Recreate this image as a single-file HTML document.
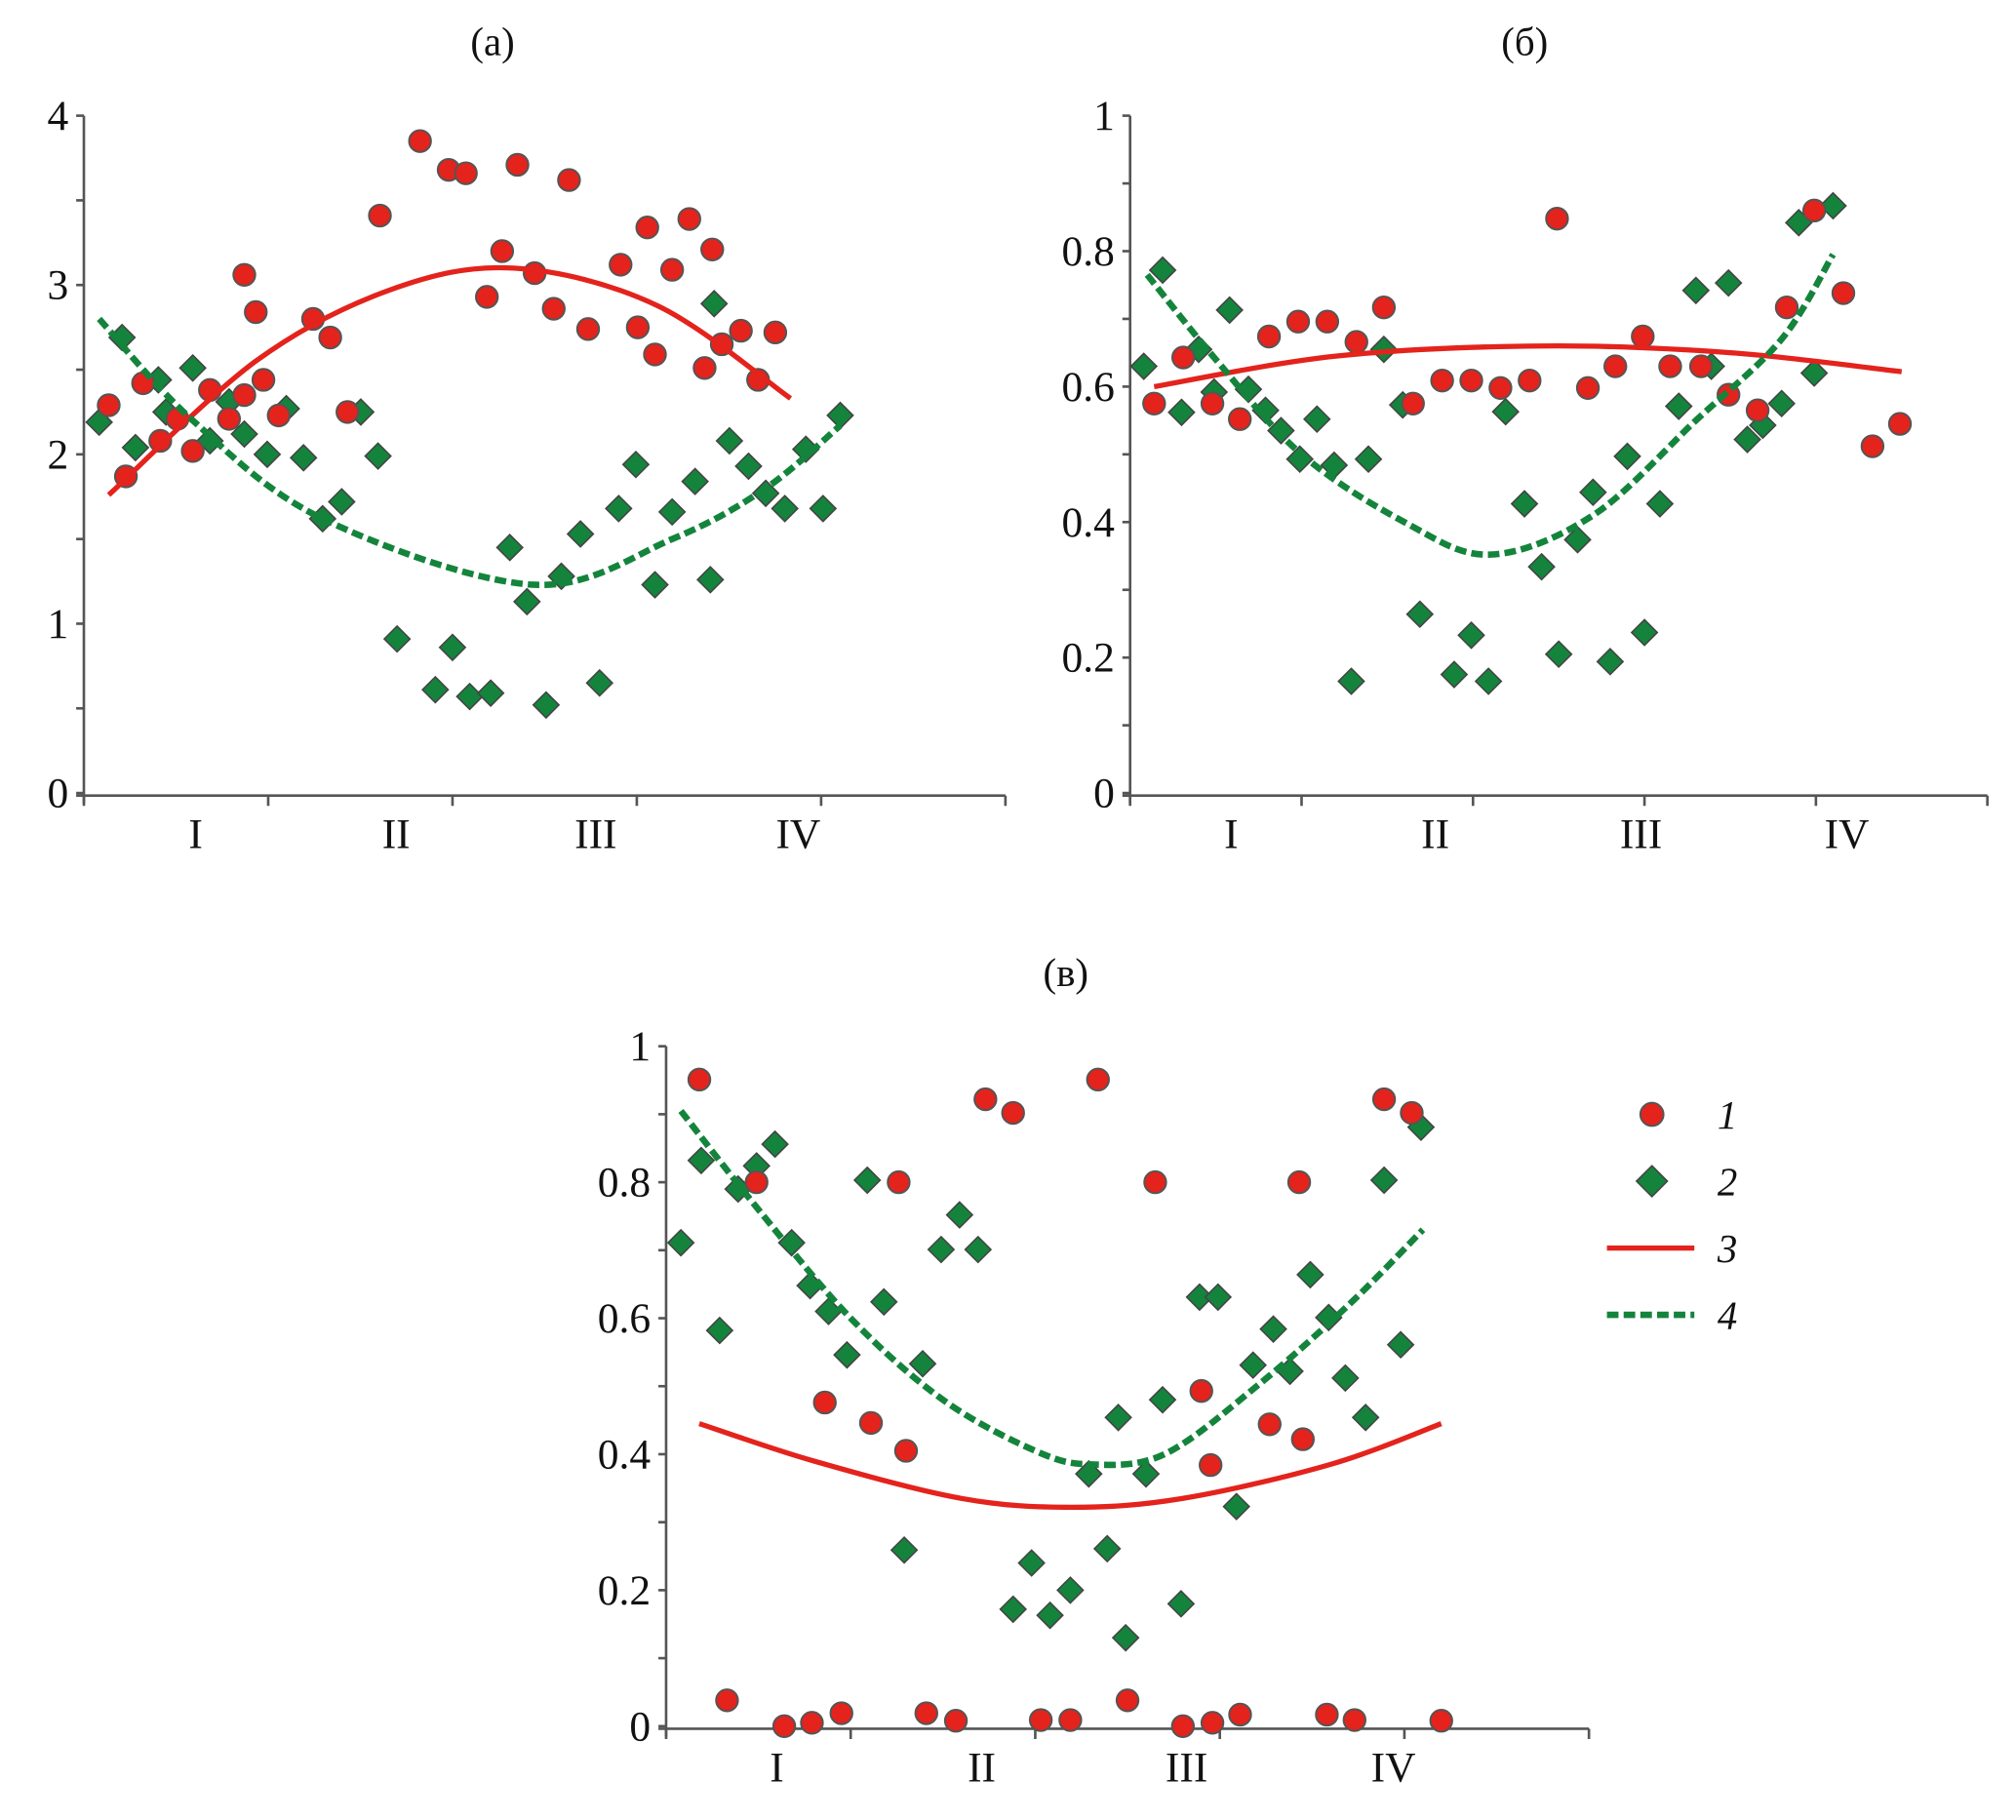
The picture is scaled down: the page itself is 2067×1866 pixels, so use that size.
<!DOCTYPE html>
<html><head><meta charset="utf-8"><style>
html,body{margin:0;padding:0;background:#fff;}
svg{display:block;}
text{font-family:"Liberation Serif","Times New Roman",serif;fill:#111;}
</style></head><body>
<svg id="fig" width="2067" height="1866" viewBox="0 0 1568 1416" xmlns="http://www.w3.org/2000/svg" font-family="Liberation Serif, serif">
</svg>
<script>
// ---------- Panel (a) data ----------
const aRedX=[0.13,0.22,0.31,0.40,0.49,0.57,0.66,0.76,0.84,0.90,0.84,0.94,1.02,1.20,1.29,1.38,1.55,1.76,1.91,2.00,2.11,2.19,2.27,2.36,2.46,2.54,2.64,2.81,2.90,2.95,2.99,3.08,3.17,3.25,3.29,3.34,3.44,3.53,3.62];
const aRedY=[2.29,1.87,2.42,2.08,2.21,2.02,2.38,2.21,3.06,2.84,2.35,2.44,2.23,2.80,2.69,2.25,3.41,3.85,3.68,3.66,2.93,3.20,3.71,3.07,2.86,3.62,2.74,3.12,2.75,3.34,2.59,3.09,3.39,2.51,3.21,2.65,2.73,2.44,2.72];
const aGrnX=[0.08,0.20,0.27,0.39,0.43,0.57,0.66,0.76,0.84,0.96,1.06,1.15,1.25,1.35,1.45,1.54,1.64,1.84,1.93,2.02,2.13,2.23,2.32,2.42,2.50,2.60,2.70,2.80,2.89,2.99,3.08,3.20,3.28,3.30,3.38,3.48,3.57,3.67,3.78,3.87,3.96];
const aGrnY=[2.19,2.69,2.04,2.44,2.25,2.51,2.08,2.31,2.12,2.00,2.27,1.98,1.62,1.72,2.25,1.99,0.91,0.61,0.86,0.57,0.59,1.45,1.13,0.52,1.28,1.53,0.65,1.68,1.94,1.23,1.66,1.84,1.26,2.89,2.08,1.93,1.77,1.68,2.03,1.68,2.23];
const aTrRedX=[0.13,0.9,1.6,2.25,3.0,3.7];
const aTrRedY=[1.76,2.55,2.97,3.10,2.88,2.33];
const aTrGrnX=[0.08,0.57,1.25,2.35,3.08,3.57,3.96];
const aTrGrnY=[2.80,2.20,1.62,1.23,1.50,1.80,2.17];
const aYTicks=["0","1","2","3","4"];
const cats=["I","II","III","IV"];

// ---------- Panel (б) data ----------
const bRedX=[0.14,0.31,0.48,0.64,0.81,0.98,1.15,1.32,1.48,1.65,1.82,1.99,2.16,2.33,2.49,2.67,2.83,2.99,3.15,3.33,3.49,3.66,3.83,3.99,4.16,4.33,4.49];
const bRedY=[0.575,0.643,0.575,0.552,0.674,0.696,0.696,0.666,0.717,0.575,0.609,0.609,0.598,0.609,0.848,0.598,0.630,0.674,0.630,0.630,0.588,0.565,0.717,0.860,0.738,0.512,0.545];
const bGrnX=[0.08,0.19,0.30,0.40,0.49,0.58,0.69,0.79,0.88,0.99,1.09,1.19,1.29,1.39,1.48,1.59,1.69,1.89,1.99,2.09,2.19,2.30,2.40,2.50,2.61,2.70,2.80,2.90,3.00,3.09,3.20,3.30,3.39,3.49,3.60,3.69,3.80,3.90,3.99,4.10];
const bGrnY=[0.63,0.772,0.562,0.655,0.592,0.713,0.596,0.565,0.535,0.493,0.552,0.484,0.165,0.493,0.655,0.573,0.264,0.175,0.233,0.165,0.563,0.427,0.334,0.205,0.374,0.444,0.194,0.497,0.237,0.427,0.571,0.742,0.630,0.753,0.522,0.543,0.575,0.842,0.620,0.867];
const bTrRedX=[0.14,1.2,2.4,3.5,4.5];
const bTrRedY=[0.600,0.645,0.660,0.650,0.622];
const bTrGrnX=[0.1,0.5,1.0,1.6,2.1,2.7,3.3,3.8,4.1];
const bTrGrnY=[0.765,0.64,0.50,0.40,0.352,0.41,0.55,0.67,0.795];
const bYTicks=["0","0.2","0.4","0.6","0.8","1"];

// ---------- Panel (в) data ----------
const cRedX=[0.18,0.33,0.49,0.64,0.79,0.86,0.95,1.11,1.26,1.30,1.41,1.57,1.73,1.88,2.03,2.19,2.34,2.50,2.65,2.80,2.90,2.95,2.96,3.11,3.27,3.43,3.45,3.58,3.73,3.89,4.04,4.20];
const cRedY=[0.951,0.038,0.80,0.0,0.005,0.476,0.019,0.446,0.80,0.405,0.019,0.008,0.922,0.902,0.009,0.009,0.951,0.038,0.80,0.0,0.493,0.384,0.005,0.017,0.444,0.80,0.422,0.017,0.009,0.922,0.902,0.008];
const cGrnX=[0.08,0.19,0.29,0.39,0.49,0.59,0.68,0.78,0.88,0.98,1.09,1.18,1.29,1.39,1.49,1.59,1.69,1.88,1.98,2.08,2.19,2.29,2.39,2.45,2.49,2.60,2.69,2.79,2.89,2.99,3.09,3.18,3.29,3.38,3.49,3.59,3.68,3.79,3.89,3.98,4.09];
const cGrnY=[0.711,0.832,0.582,0.790,0.824,0.856,0.711,0.648,0.61,0.546,0.803,0.624,0.259,0.533,0.701,0.752,0.701,0.172,0.240,0.163,0.200,0.371,0.261,0.454,0.130,0.371,0.480,0.180,0.631,0.631,0.323,0.531,0.584,0.522,0.664,0.601,0.512,0.454,0.803,0.561,0.881];
const cTrRedX=[0.18,0.8,1.6,2.2,2.8,3.6,4.2];
const cTrRedY=[0.445,0.39,0.335,0.322,0.335,0.385,0.445];
const cTrGrnX=[0.08,0.5,1.0,1.5,2.0,2.3,2.7,3.2,3.7,4.1];
const cTrGrnY=[0.905,0.76,0.60,0.48,0.405,0.385,0.40,0.50,0.62,0.73];
const cYTicks=["0","0.2","0.4","0.6","0.8","1"];
const legendLabels=["1","2","3","4"];

const NS="http://www.w3.org/2000/svg";
const svg=document.getElementById('fig');
function el(tag,attrs,parent){const e=document.createElementNS(NS,tag);for(const k in attrs)e.setAttribute(k,attrs[k]);(parent||svg).appendChild(e);return e;}
const RED="#e3231c",GRN="#14843c",FONT="Liberation Serif, serif";

function catmull(pts){
  let d="M"+pts[0][0].toFixed(1)+","+pts[0][1].toFixed(1);
  for(let i=0;i<pts.length-1;i++){
    const p0=pts[Math.max(0,i-1)],p1=pts[i],p2=pts[i+1],p3=pts[Math.min(pts.length-1,i+2)];
    const c1=[p1[0]+(p2[0]-p0[0])/6,p1[1]+(p2[1]-p0[1])/6];
    const c2=[p2[0]-(p3[0]-p1[0])/6,p2[1]-(p3[1]-p1[1])/6];
    d+=" C"+c1[0].toFixed(1)+","+c1[1].toFixed(1)+" "+c2[0].toFixed(1)+","+c2[1].toFixed(1)+" "+p2[0].toFixed(1)+","+p2[1].toFixed(1);
  }
  return d;
}

function panel(cfg){
  const g=el('g',{});
  
  
  const sx=v=>cfg.x0+(v-cfg.xmin)/(cfg.xmax-cfg.xmin)*(cfg.x1-cfg.x0);
  const sy=v=>cfg.y0-(v-cfg.ymin)/(cfg.ymax-cfg.ymin)*(cfg.y0-cfg.y1);
  const t=el('text',{x:cfg.titleX,y:cfg.titleY,'font-size':31,'text-anchor':'middle','font-family':FONT},g);t.textContent=cfg.title;
  
  const ya=el('line',{x1:cfg.x0,y1:cfg.y1,x2:cfg.x0,y2:cfg.y0+8,stroke:'#555','stroke-width':2},g);
  
  const xa=el('line',{x1:cfg.x0-6,y1:cfg.y0+2,x2:cfg.x1,y2:cfg.y0+2,stroke:'#555','stroke-width':2},g);
  
  const n=cfg.yTicks.length-1;
  for(let i=0;i<=2*n;i++){
    const v=cfg.ymin+(cfg.ymax-cfg.ymin)*i/(2*n);
    el('line',{x1:cfg.x0-6,y1:sy(v),x2:cfg.x0,y2:sy(v),stroke:'#555','stroke-width':2},g);
  }
  cfg.yTicks.forEach((lab,i)=>{
    const v=cfg.ymin+(cfg.ymax-cfg.ymin)*i/n;
    const tt=el('text',{x:cfg.x0-12,y:sy(v)+11,'font-size':33,'text-anchor':'end','font-family':FONT},g);tt.textContent=lab;
    
  });
  for(let i=0;i<=5;i++){const x=cfg.x0+(cfg.x1-cfg.x0)*i/5;el('line',{x1:x,y1:cfg.y0+2,x2:x,y2:cfg.y0+10,stroke:'#555','stroke-width':2},g);}
  cats.forEach((c,i)=>{
    const tt=el('text',{x:sx(cfg.catPos[i]),y:cfg.y0+43,'font-size':33,'text-anchor':'middle','font-family':FONT},g);tt.textContent=c;
    
  });
  cfg.gx.forEach((x,i)=>{
    const cx=sx(x),cy=sy(cfg.gy[i]),r=10;
    const p=el('polygon',{points:`${cx},${cy-r} ${cx+r},${cy} ${cx},${cy+r} ${cx-r},${cy}`,fill:GRN,stroke:'#444','stroke-width':1.2},g);
    
  });
  cfg.rx.forEach((x,i)=>{
    const c=el('circle',{cx:sx(x),cy:sy(cfg.ry[i]),r:8.5,fill:RED,stroke:'#555','stroke-width':1.5},g);
    
  });
  const pr=el('path',{d:catmull(cfg.trx.map((x,i)=>[sx(x),sy(cfg.try_[i])])),fill:'none',stroke:RED,'stroke-width':4},g);
  
  const pg=el('path',{d:catmull(cfg.tgx.map((x,i)=>[sx(x),sy(cfg.tgy[i])])),fill:'none',stroke:GRN,'stroke-width':5,'stroke-dasharray':'9,4'},g);
  
}

panel({name:'panel-a',title:'(a)',titleX:383,titleY:43,x0:65,x1:782,y0:617,y1:90,xmin:0,xmax:4.825,ymin:0,ymax:4,
  yTicks:aYTicks,catPos:[0.585,1.635,2.68,3.74],rx:aRedX,ry:aRedY,gx:aGrnX,gy:aGrnY,trx:aTrRedX,try_:aTrRedY,tgx:aTrGrnX,tgy:aTrGrnY});
panel({name:'panel-b',title:'(б)',titleX:1186,titleY:43,x0:879,x1:1546,y0:617,y1:90,xmin:0,xmax:5,ymin:0,ymax:1,
  yTicks:bYTicks,catPos:[0.59,1.78,2.98,4.18],rx:bRedX,ry:bRedY,gx:bGrnX,gy:bGrnY,trx:bTrRedX,try_:bTrRedY,tgx:bTrGrnX,tgy:bTrGrnY});
panel({name:'panel-c',title:'(в)',titleX:829,titleY:767,x0:518,x1:1236,y0:1343,y1:814,xmin:0,xmax:5,ymin:0,ymax:1,
  yTicks:cYTicks,catPos:[0.60,1.71,2.82,3.94],rx:cRedX,ry:cRedY,gx:cGrnX,gy:cGrnY,trx:cTrRedX,try_:cTrRedY,tgx:cTrGrnX,tgy:cTrGrnY});

const lg=el('g',{});


const ly=[867,919,971,1023];
el('circle',{cx:1285,cy:ly[0],r:9,fill:RED,stroke:'#555','stroke-width':1.5},lg);
el('polygon',{points:`1285,${ly[1]-12} 1297,${ly[1]} 1285,${ly[1]+12} 1273,${ly[1]}`,fill:GRN,stroke:'#444','stroke-width':1.2},lg);
el('line',{x1:1250,y1:ly[2],x2:1318,y2:ly[2],stroke:RED,'stroke-width':4},lg);
el('line',{x1:1250,y1:ly[3],x2:1318,y2:ly[3],stroke:GRN,'stroke-width':5,'stroke-dasharray':'9,4'},lg);
legendLabels.forEach((l,i)=>{
  const tt=el('text',{x:1336,y:ly[i]+11,'font-size':31,'font-style':'italic','font-family':FONT},lg);
  tt.textContent=l;
  
  
});
</script>
</body></html>
